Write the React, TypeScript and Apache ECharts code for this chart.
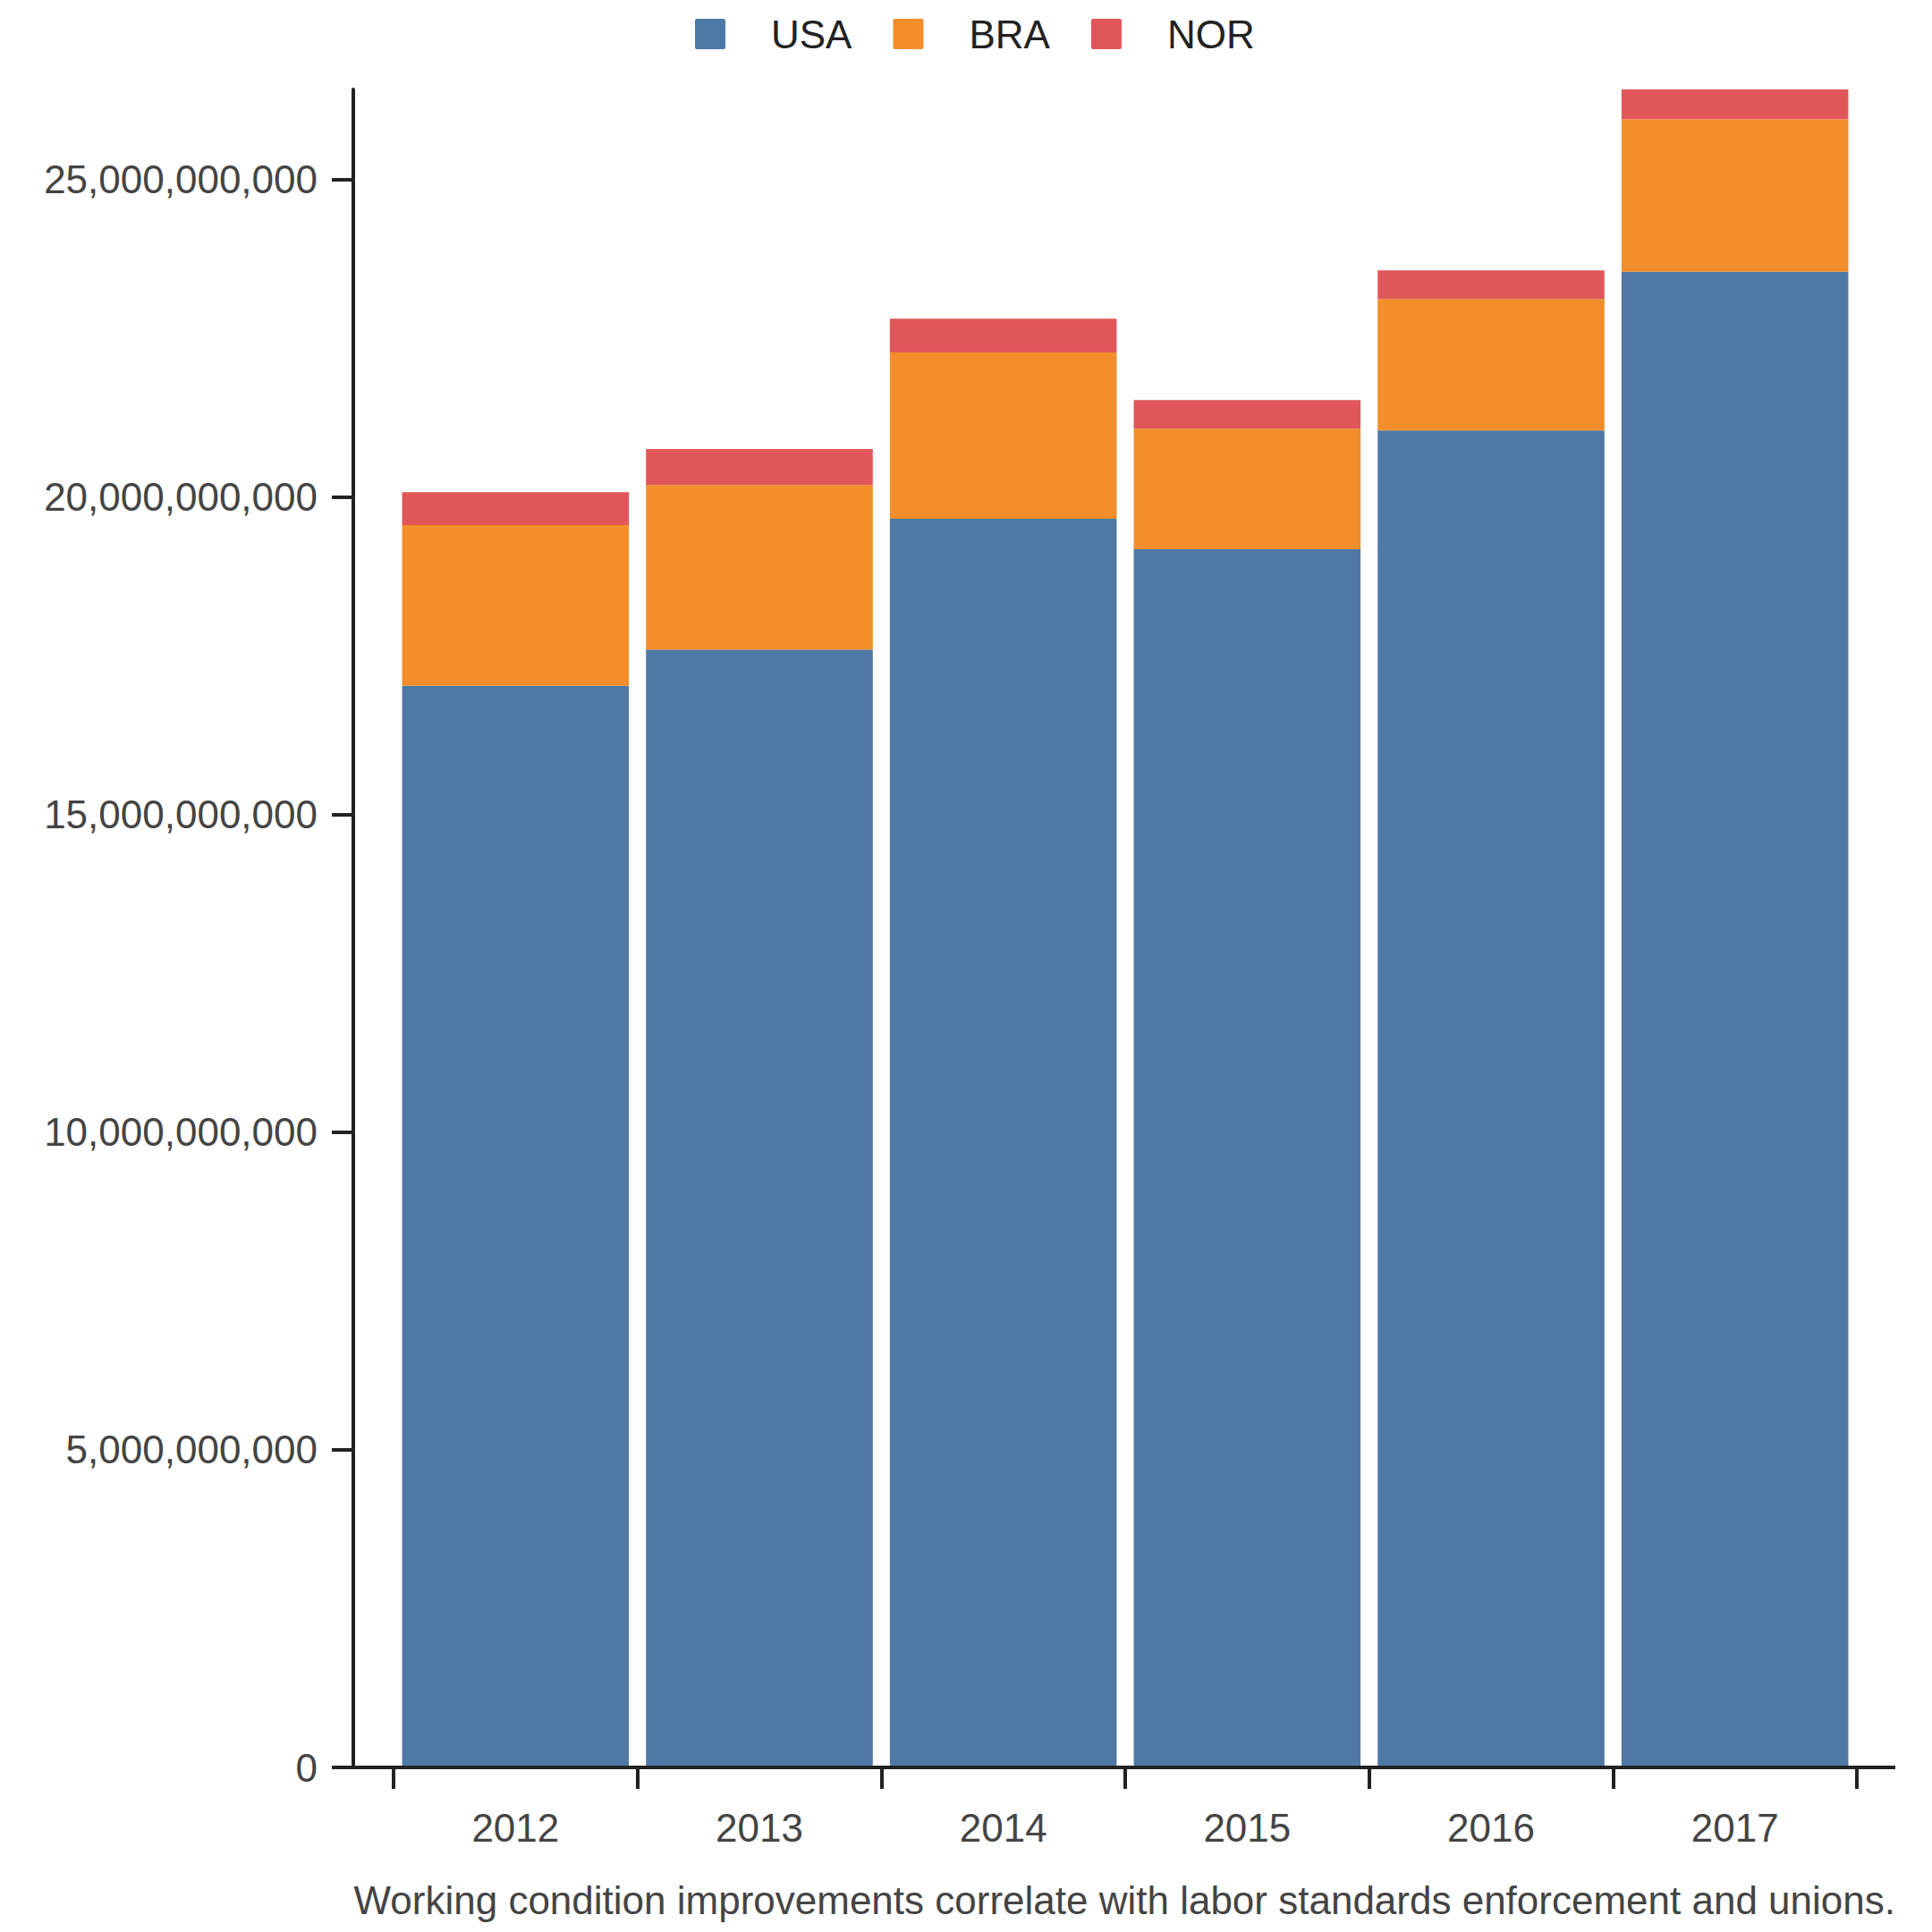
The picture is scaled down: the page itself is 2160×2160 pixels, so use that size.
import React, { useEffect, useRef } from "react";
import * as echarts from "echarts";

const years = ["2012", "2013", "2014", "2015", "2016", "2017"];
const usa = [17.03e9, 17.6e9, 19.66e9, 19.18e9, 21.05e9, 23.55e9];
const bra = [2.53e9, 2.59e9, 2.62e9, 1.9e9, 2.07e9, 2.4e9];
const nor = [0.52e9, 0.57e9, 0.53e9, 0.45e9, 0.45e9, 0.47e9];
const yTicks = [0, 5e9, 10e9, 15e9, 20e9, 25e9];
const seriesNames = ["USA", "BRA", "NOR"];
const colors = ["#4e79a7", "#f28e2b", "#e15759"];
const caption =
  "Working condition improvements correlate with labor standards enforcement and unions.";

const FONT = "'Liberation Sans', Arial, Helvetica, sans-serif";

export default function App() {
  const ref = useRef<HTMLDivElement>(null);

  useEffect(() => {
    document.body.style.margin = "0";
    if (!ref.current) return;
    const chart = echarts.init(ref.current, null, { renderer: "svg" });
    const totals = years.map((_, i) => usa[i] + bra[i] + nor[i]);
    const yMax = Math.max(...totals);

    const gridLeft = 440;
    const gridRight = 84;
    const gridTop = 100;
    const gridBottom = 184;
    const baseY = 2160 - gridBottom;
    const axisX = 395;
    const axisEnd = 2119;

    const data = [usa, bra, nor];

    chart.setOption({
      animation: false,
      backgroundColor: "#ffffff",
      textStyle: { fontFamily: FONT },
      legend: {
        top: 11,
        left: 772,
        itemWidth: 34,
        itemHeight: 34,
        itemGap: 46,
        icon: "path://M2,0 L32,0 Q34,0 34,2 L34,32 Q34,34 32,34 L2,34 Q0,34 0,32 L0,2 Q0,0 2,0 Z",
        data: seriesNames,
        textStyle: {
          fontSize: 44,
          color: "#222222",
          fontFamily: FONT,
          padding: [0, 0, 0, 46],
        },
      },
      grid: {
        left: gridLeft,
        right: gridRight,
        top: gridTop,
        bottom: gridBottom,
        containLabel: false,
      },
      xAxis: {
        type: "category",
        data: years,
        axisLine: { show: false },
        axisTick: {
          show: true,
          length: 24,
          lineStyle: { color: "#222222", width: 4 },
        },
        axisLabel: {
          fontSize: 44,
          color: "#444444",
          margin: 45,
          fontFamily: FONT,
        },
        splitLine: { show: false },
      },
      yAxis: {
        type: "value",
        min: 0,
        max: yMax,
        offset: gridLeft - axisX,
        axisLine: {
          show: true,
          lineStyle: { color: "#222222", width: 4 },
        },
        axisTick: {
          show: true,
          length: 24,
          customValues: yTicks,
          lineStyle: { color: "#222222", width: 4 },
        },
        axisLabel: {
          fontSize: 44,
          color: "#444444",
          margin: 40,
          fontFamily: FONT,
          customValues: yTicks,
          formatter: (v: number) => Math.round(v).toLocaleString("en-US"),
        },
        splitLine: { show: false },
      },
      series: seriesNames.map((name, k) => ({
        name,
        type: "bar",
        stack: "total",
        data: data[k],
        barCategoryGap: "7%",
        itemStyle: { color: colors[k] },
      })),
      graphic: [
        {
          type: "line",
          shape: { x1: axisX - 2, y1: baseY, x2: axisEnd, y2: baseY },
          style: { stroke: "#222222", lineWidth: 4 },
          z: 10,
        },
        {
          type: "text",
          x: axisEnd,
          y: 2124,
          style: {
            text: caption,
            fontSize: 44,
            fontFamily: FONT,
            fill: "#444444",
            textAlign: "right",
            textVerticalAlign: "middle",
          },
        },
      ],
    });

    return () => chart.dispose();
  }, []);

  return <div ref={ref} style={{ width: 2160, height: 2160 }} />;
}
